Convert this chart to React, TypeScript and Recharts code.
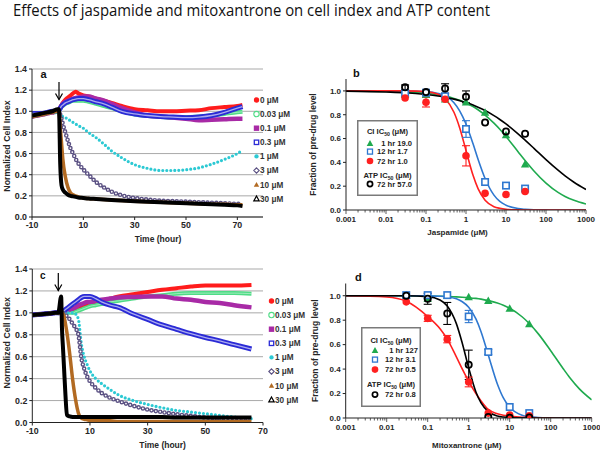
import React from "react";
import {
  LineChart,
  ComposedChart,
  Line,
  Scatter,
  ErrorBar,
  XAxis,
  YAxis,
  CartesianGrid,
  Legend,
} from "recharts";

const FONT = "'Liberation Sans', Arial, sans-serif";
const INK = "#262626";

// ---------- panels a and c: cell index over time ----------
const doseLabels = ["0 μM", "0.03 μM", "0.1 μM", "0.3 μM", "1 μM", "3 μM", "10 μM", "30 μM"];
const doseKeys = ["s0", "s003", "s01", "s03", "s1", "s3", "s10", "s30"];
const doseColors = ["#ff1c1c", "#4fdc86", "#a82aa6", "#2b2bd6", "#2cc9d3", "#5b5183", "#b26a22", "#000000"];
const doseShapes = ["circle", "circleOpen", "square", "squareOpen", "dot", "diamondOpen", "triangle", "triangleOpen"];

const timeA = [-10, -8, -6, -4, -2, 0, 0.5, 1, 1.5, 2, 3, 4, 5, 6, 7, 8, 10, 12, 15, 18, 21, 25, 30, 35, 40, 45, 50, 55, 60, 65, 70, 72];
const jasp0 = [0.95, 0.96, 0.97, 0.98, 0.99, 1.0, 1.01, 1.04, 1.06, 1.08, 1.11, 1.13, 1.15, 1.17, 1.185, 1.17, 1.15, 1.14, 1.12, 1.1, 1.08, 1.05, 1.02, 1.01, 1.0, 1.0, 1.005, 1.01, 1.03, 1.04, 1.05, 1.06];
const jasp003 = [0.95, 0.96, 0.97, 0.98, 0.99, 1.0, 1.0, 1.02, 1.04, 1.05, 1.07, 1.08, 1.09, 1.1, 1.1, 1.1, 1.1, 1.09, 1.07, 1.05, 1.03, 1.0, 0.97, 0.955, 0.945, 0.94, 0.945, 0.95, 0.96, 0.975, 0.99, 0.995];
const jasp01 = [0.95, 0.96, 0.97, 0.98, 0.99, 1.0, 1.01, 1.03, 1.05, 1.07, 1.09, 1.1, 1.11, 1.12, 1.125, 1.13, 1.14, 1.14, 1.12, 1.1, 1.07, 1.03, 0.99, 0.96, 0.95, 0.94, 0.93, 0.915, 0.92, 0.925, 0.93, 0.93];
const jasp03 = [0.98, 0.98, 0.98, 0.99, 1.0, 1.0, 1.01, 1.03, 1.05, 1.06, 1.08, 1.09, 1.1, 1.11, 1.115, 1.12, 1.12, 1.11, 1.09, 1.07, 1.04, 1.0, 0.975, 0.96, 0.95, 0.945, 0.94, 0.945, 0.96, 0.99, 1.03, 1.045];
const jasp1 = [0.95, 0.96, 0.97, 0.98, 0.99, 0.98, 0.97, 0.96, 0.955, 0.95, 0.94, 0.925, 0.91, 0.895, 0.88, 0.865, 0.84, 0.8, 0.75, 0.69, 0.625, 0.56, 0.495, 0.46, 0.44, 0.44, 0.447, 0.465, 0.5, 0.545, 0.6, 0.63];
const jasp3 = [0.95, 0.96, 0.97, 0.98, 0.99, 1.0, 1.0, 0.97, 0.93, 0.88, 0.8, 0.72, 0.65, 0.6, 0.55, 0.51, 0.45, 0.4, 0.33, 0.28, 0.24, 0.205, 0.18, 0.165, 0.155, 0.15, 0.145, 0.14, 0.135, 0.13, 0.125, 0.125];
const jasp10 = [0.95, 0.96, 0.97, 0.98, 0.99, 1.0, 1.0, 0.85, 0.7, 0.55, 0.38, 0.28, 0.23, 0.21, 0.2, 0.19, 0.18, 0.175, 0.17, 0.165, 0.16, 0.155, 0.15, 0.145, 0.14, 0.135, 0.13, 0.125, 0.12, 0.12, 0.115, 0.115];
const jasp30 = [0.96, 0.97, 0.98, 0.99, 1.0, 1.02, 1.02, 0.5, 0.3, 0.26, 0.23, 0.21, 0.2, 0.195, 0.19, 0.185, 0.18, 0.175, 0.17, 0.165, 0.16, 0.155, 0.15, 0.145, 0.14, 0.135, 0.13, 0.125, 0.12, 0.115, 0.11, 0.105];

const timeC = [-10, -8, -6, -4, -2, -1, 0, 0.3, 0.6, 1, 1.5, 2, 3, 4, 5, 6, 7, 8, 9, 10, 12, 14, 17, 20, 25, 30, 35, 40, 45, 50, 55, 60, 66];
const mito0 = [0.98, 0.985, 0.99, 0.995, 1.0, 1.0, 1.0, 1.0, 1.0, 1.0, 1.005, 1.01, 1.02, 1.03, 1.04, 1.05, 1.06, 1.07, 1.08, 1.09, 1.1, 1.11, 1.13, 1.15, 1.17, 1.19, 1.21, 1.225, 1.24, 1.25, 1.25, 1.25, 1.255];
const mito003 = [0.98, 0.985, 0.99, 0.995, 1.0, 1.0, 1.0, 1.0, 1.0, 1.0, 1.0, 1.0, 1.0, 1.0, 1.01, 1.02, 1.03, 1.04, 1.05, 1.06, 1.07, 1.08, 1.1, 1.11, 1.13, 1.15, 1.16, 1.175, 1.18, 1.18, 1.18, 1.18, 1.175];
const mito01 = [0.98, 0.985, 0.99, 0.995, 1.0, 1.0, 1.0, 1.0, 1.0, 1.01, 1.015, 1.02, 1.03, 1.04, 1.05, 1.07, 1.08, 1.09, 1.1, 1.1, 1.11, 1.12, 1.13, 1.14, 1.145, 1.15, 1.15, 1.13, 1.12, 1.1, 1.09, 1.07, 1.05];
const mito03 = [0.98, 0.985, 0.99, 0.995, 1.0, 1.0, 1.0, 1.0, 1.01, 1.02, 1.03, 1.04, 1.06, 1.08, 1.1, 1.12, 1.14, 1.15, 1.15, 1.15, 1.13, 1.1, 1.07, 1.05, 0.99, 0.94, 0.89, 0.85, 0.81, 0.775, 0.745, 0.71, 0.67];
const mito1 = [0.98, 0.985, 0.99, 0.995, 1.0, 1.0, 1.0, 1.0, 1.0, 1.0, 1.0, 1.0, 1.0, 1.0, 0.99, 0.94, 0.72, 0.6, 0.53, 0.47, 0.4, 0.355, 0.3, 0.25, 0.2, 0.165, 0.135, 0.11, 0.095, 0.08, 0.065, 0.05, 0.035];
const mito3 = [0.98, 0.985, 0.99, 0.995, 1.0, 1.0, 1.0, 1.0, 1.0, 0.99, 0.98, 0.97, 0.94, 0.9, 0.86, 0.8, 0.59, 0.49, 0.42, 0.375, 0.315, 0.27, 0.225, 0.195, 0.152, 0.118, 0.095, 0.075, 0.06, 0.045, 0.035, 0.025, 0.02];
const mito10 = [0.98, 0.985, 0.99, 0.995, 1.0, 1.0, 1.0, 1.0, 0.99, 0.97, 0.9, 0.82, 0.62, 0.39, 0.21, 0.085, 0.04, 0.03, 0.025, 0.02, 0.02, 0.015, 0.015, 0.01, 0.01, 0.01, 0.01, 0.01, 0.01, 0.01, 0.01, 0.01, 0.01];
const mito30 = [0.98, 0.985, 0.99, 0.995, 1.0, 1.0, 1.15, 0.85, 0.7, 0.5, 0.25, 0.07, 0.055, 0.05, 0.05, 0.05, 0.05, 0.05, 0.05, 0.05, 0.05, 0.05, 0.05, 0.05, 0.05, 0.05, 0.05, 0.045, 0.045, 0.045, 0.045, 0.045, 0.045];

const cellIndexTicks = [0, 0.2, 0.4, 0.6, 0.8, 1.0, 1.2, 1.4];
const timeTicks = [-10, 10, 30, 50, 70];

// ---------- panels b and d: dose response ----------
const doses = [0.03, 0.1, 0.3, 1, 3, 10, 30];

const jaspCI1 = [0.97, 0.97, 0.93, 0.905, 0.82, 0.63, 0.385];
const jaspCI12 = [0.98, 0.985, 0.955, 0.68, 0.235, 0.205, 0.18];
const jaspCI12Err = [null, null, null, 0.07, null, null, null];
const jaspCI72 = [0.94, 0.905, 0.93, 0.455, 0.14, 0.13, 0.155];
const jaspCI72Err = [null, 0.04, null, 0.085, null, null, null];
const jaspATP = [1.03, 0.99, 1.02, 0.95, 0.735, 0.66, 0.64];
const jaspATPErr = [0.02, null, 0.04, 0.05, null, null, null];

const mitoCI1 = [1.0, 0.975, 1.0, 0.99, 0.96, 0.895, 0.77];
const mitoCI12 = [1.005, 1.005, 1.005, 0.83, 0.54, 0.09, 0.04];
const mitoCI12Err = [null, null, null, 0.05, 0.02, null, null];
const mitoCI72 = [0.95, 0.815, 0.645, 0.295, 0.04, 0.025, 0.018];
const mitoCI72Err = [null, 0.025, 0.03, 0.04, null, null, null];
const mitoATP = [1.0, 0.975, 0.855, 0.435, 0.008, 0.003, 0.005];
const mitoATPErr = [null, 0.045, 0.09, 0.12, null, null, null];

// fitted curves
const fitX = [0.001, 0.01, 0.03, 0.1, 0.2, 0.3, 0.5, 0.7, 1, 1.5, 2, 3, 5, 7, 10, 20, 30, 50, 100, 200, 300, 500, 1000];
const jaspFit1 = [0.999, 0.996, 0.992, 0.98, 0.967, 0.956, 0.937, 0.921, 0.899, 0.869, 0.842, 0.797, 0.729, 0.678, 0.617, 0.49, 0.416, 0.328, 0.226, 0.148, 0.114, 0.081, 0.05];
const jaspFit12 = [1.0, 1.0, 0.999, 0.994, 0.979, 0.958, 0.901, 0.831, 0.722, 0.556, 0.427, 0.265, 0.125, 0.072, 0.04, 0.012, 0.006, 0.002, 0.001, 0, 0, 0, 0];
const jaspFit72 = [1.0, 1.0, 1.0, 0.994, 0.972, 0.934, 0.821, 0.687, 0.5, 0.291, 0.179, 0.082, 0.028, 0.014, 0.006, 0.001, 0, 0, 0, 0, 0, 0, 0];
const jaspFitATP = [0.998, 0.991, 0.985, 0.97, 0.957, 0.947, 0.931, 0.918, 0.902, 0.881, 0.863, 0.835, 0.792, 0.76, 0.723, 0.64, 0.587, 0.518, 0.423, 0.334, 0.286, 0.233, 0.172];

const mitoFit1 = [1.0, 1.0, 0.999, 0.998, 0.996, 0.994, 0.991, 0.988, 0.984, 0.978, 0.972, 0.96, 0.94, 0.922, 0.897, 0.828, 0.773, 0.688, 0.55, 0.405, 0.325, 0.238, 0.148];
const mitoFit12 = [1.0, 1.0, 1.0, 0.999, 0.996, 0.991, 0.975, 0.951, 0.906, 0.81, 0.706, 0.516, 0.278, 0.164, 0.088, 0.023, 0.011, 0.004, 0.001, 0, 0, 0, 0];
const mitoFit72 = [1.0, 0.99, 0.955, 0.83, 0.73, 0.645, 0.5, 0.4, 0.3, 0.2, 0.14, 0.07, 0.035, 0.022, 0.015, 0.006, 0.004, 0.002, 0.001, 0, 0, 0, 0];
const mitoFitATP = [1.0, 1.0, 1.0, 0.993, 0.965, 0.916, 0.772, 0.61, 0.41, 0.213, 0.123, 0.052, 0.017, 0.008, 0.0035, 0.001, 0, 0, 0, 0, 0, 0, 0];

const decades = [0.001, 0.01, 0.1, 1, 10, 100, 1000];
const minorSteps = [2, 3, 4, 5, 6, 7, 8, 9];
const fractionTicks = [0, 0.2, 0.4, 0.6, 0.8, 1.0];

const GREEN = "#1faa4e";
const BLUE = "#2f78d0";
const RED = "#ff2020";

// ---------- helpers ----------
const buildRows = (times: number[], series: number[][]) =>
  times.map((t, i) => {
    const row: Record<string, number> = { t };
    doseKeys.forEach((k, j) => (row[k] = series[j][i]));
    return row;
  });

const pts = (xs: number[], ys: number[], es?: (number | null)[]) =>
  xs.map((x, i) => ({ x, y: ys[i], e: es ? es[i] : null }));

const rowsA = buildRows(timeA, [jasp0, jasp003, jasp01, jasp03, jasp1, jasp3, jasp10, jasp30]);
const rowsC = buildRows(timeC, [mito0, mito003, mito01, mito03, mito1, mito3, mito10, mito30]);

const logTicks = [
  ...decades,
  ...decades.slice(0, -1).flatMap((d) => minorSteps.map((m) => +(d * m).toPrecision(3))),
];

function Marker({ shape, color, x, y, s }: { shape: string; color: string; x: number; y: number; s: number }) {
  switch (shape) {
    case "circle":
      return <circle cx={x} cy={y} r={s} fill={color} />;
    case "circleOpen":
      return <circle cx={x} cy={y} r={s} fill="none" stroke={color} strokeWidth={1.1} />;
    case "square":
      return <rect x={x - s} y={y - s} width={2 * s} height={2 * s} fill={color} />;
    case "squareOpen":
      return <rect x={x - s + 0.5} y={y - s + 0.5} width={2 * s - 1} height={2 * s - 1} fill="none" stroke={color} strokeWidth={1.3} />;
    case "dot":
      return <circle cx={x} cy={y} r={s * 0.8} fill={color} />;
    case "diamondOpen":
      return <path d={`M${x},${y - s}L${x + s},${y}L${x},${y + s}L${x - s},${y}Z`} fill="none" stroke={color} strokeWidth={1.1} />;
    case "triangle":
      return <path d={`M${x},${y - s}L${x + s},${y + s * 0.8}L${x - s},${y + s * 0.8}Z`} fill={color} />;
    default:
      return <path d={`M${x},${y - s}L${x + s},${y + s * 0.8}L${x - s},${y + s * 0.8}Z`} fill="none" stroke={color} strokeWidth={1.2} />;
  }
}

const DoseLegend = () => (
  <svg width={56} height={116} style={{ overflow: "visible", display: "block" }}>
    {doseLabels.map((lab, i) => (
      <g key={lab}>
        <Marker shape={doseShapes[i]} color={doseColors[i]} x={4.5} y={7 + i * 14.1} s={2.7} />
        <text x={8} y={7 + i * 14.1} dy="0.36em" fontSize={8.2} fontWeight="bold" fill="#333" fontFamily={FONT}>
          {lab}
        </text>
      </g>
    ))}
  </svg>
);

const ic50Label = (prefix: string, x: number, y: number) => (
  <text x={x} y={y} dy="0.36em" textAnchor="middle" fontSize={7.6} fontWeight="bold" fill="#222" fontFamily={FONT}>
    {prefix} IC
    <tspan fontSize={5.2} dy={1.8}>50</tspan>
    <tspan dy={-1.8}> (μM)</tspan>
  </text>
);

function IcLegend({ labels, atpLabel, rows, markerX, textX, w, h }: any) {
  const shapes = ["triangle", "squareOpen", "circle"];
  const cols = [GREEN, BLUE, RED];
  return (
    <svg width={w} height={h} style={{ display: "block" }}>
      <rect x={0.75} y={0.75} width={w - 1.5} height={h - 1.5} fill="#fff" stroke="#7a7a7a" strokeWidth={1.5} />
      {ic50Label("CI", w / 2, rows[0])}
      {labels.map((lab: string, i: number) => (
        <g key={lab}>
          <Marker shape={shapes[i]} color={cols[i]} x={markerX} y={rows[i + 1]} s={i === 1 ? 3 : 3.3} />
          <text x={textX} y={rows[i + 1]} dy="0.36em" fontSize={7.6} fontWeight="bold" fill="#222" fontFamily={FONT}>
            {lab}
          </text>
        </g>
      ))}
      {ic50Label("ATP", w / 2, rows[4])}
      <circle cx={markerX} cy={rows[5]} r={2.6} fill="none" stroke="#000" strokeWidth={1.7} />
      <text x={textX} y={rows[5]} dy="0.36em" fontSize={7.6} fontWeight="bold" fill="#222" fontFamily={FONT}>
        {atpLabel}
      </text>
    </svg>
  );
}

const LogTick = (props: any) => {
  const { x, y, payload } = props;
  const v = payload.value;
  const major = decades.includes(v);
  const y0 = y - 6;
  return (
    <g>
      <line x1={x} x2={x} y1={y0} y2={y0 + (major ? 4 : 2.5)} stroke="#333" strokeWidth={0.8} />
      {major && (
        <text x={x} y={y} dy="0.72em" textAnchor="middle" fontSize={8} fontWeight="bold" fill={INK} fontFamily={FONT}>
          {String(v)}
        </text>
      )}
    </g>
  );
};

const tickStyleA = { fontSize: 8.8, fontWeight: "bold", fill: INK, fontFamily: FONT };
const tickStyleB = { fontSize: 8, fontWeight: "bold", fill: INK, fontFamily: FONT };
const labelStyle = { fontSize: 8.5, fontWeight: "bold", fill: INK, fontFamily: FONT };

const common = { type: "monotone" as const, dot: false, isAnimationActive: false, activeDot: false as const };

function TimePanel({ rows, domain, margin, yWidth, xHeight, xLabelDx, yLabelDy, legendPos }: any) {
  return (
    <LineChart width={300} height={190} data={rows} margin={margin}>
      <CartesianGrid vertical={false} stroke="#a9a9a9" strokeWidth={1} />
      <XAxis
        type="number"
        dataKey="t"
        domain={domain}
        ticks={timeTicks}
        allowDataOverflow
        height={xHeight}
        interval={0}
        stroke="#222"
        tickSize={3}
        tick={tickStyleA}
        label={{ value: "Time (hour)", position: "insideBottom", offset: 0, dx: xLabelDx, style: labelStyle }}
      />
      <YAxis
        type="number"
        domain={[0, 1.4]}
        ticks={cellIndexTicks}
        allowDataOverflow
        width={yWidth}
        interval={0}
        stroke="#222"
        tickSize={3}
        tick={tickStyleA}
        tickFormatter={(v: number) => v.toFixed(1)}
        label={{ value: "Normalized Cell Index", angle: -90, position: "center", dx: -9.5, dy: yLabelDy, style: { ...labelStyle, fontSize: 8.8 } }}
      />
      <Legend
        layout="vertical"
        align="center"
        verticalAlign="middle"
        content={() => <DoseLegend />}
        wrapperStyle={{ left: legendPos[0], top: legendPos[1], width: 56, height: 116 }}
      />
      <Line {...common} dataKey="s0" stroke={doseColors[0]} strokeWidth={4} />
      <Line {...common} dataKey="s003" stroke={doseColors[1]} strokeWidth={4} />
      <Line {...common} dataKey="s003" stroke="#ffffff" strokeOpacity={0.45} strokeWidth={1} />
      <Line {...common} dataKey="s01" stroke={doseColors[2]} strokeWidth={4.5} />
      <Line {...common} dataKey="s03" stroke={doseColors[3]} strokeWidth={5} />
      <Line {...common} dataKey="s03" stroke="#ffffff" strokeOpacity={0.6} strokeWidth={1.3} />
      <Line {...common} dataKey="s1" stroke={doseColors[4]} strokeWidth={3.2} strokeDasharray="0 4" strokeLinecap="round" />
      <Line {...common} dataKey="s3" stroke={doseColors[5]} strokeWidth={4.6} strokeDasharray="0 4.4" strokeLinecap="round" />
      <Line {...common} dataKey="s3" stroke="#ffffff" strokeWidth={1.8} strokeDasharray="0 4.4" strokeLinecap="round" />
      <Line {...common} dataKey="s10" stroke={doseColors[6]} strokeWidth={3.5} />
      <Line {...common} dataKey="s30" stroke={doseColors[7]} strokeWidth={4} />
    </LineChart>
  );
}

const triShape = (color: string) => (p: any) =>
  <path d={`M${p.cx},${p.cy - 4.2}L${p.cx + 4.2},${p.cy + 3.3}L${p.cx - 4.2},${p.cy + 3.3}Z`} fill={color} />;
const sqShape = (color: string) => (p: any) =>
  <rect x={p.cx - 3.2} y={p.cy - 3.2} width={6.4} height={6.4} fill="#fff" stroke={color} strokeWidth={1.6} />;
const dotShape = (color: string) => (p: any) => <circle cx={p.cx} cy={p.cy} r={3.8} fill={color} />;
const ringShape = (color: string) => (p: any) =>
  <circle cx={p.cx} cy={p.cy} r={3.1} fill="none" stroke={color} strokeWidth={1.8} />;

function DosePanel({ curves, points, margin, yWidth, xHeight, xLabel, xLabelDx, yLabelDx, legend }: any) {
  const curveCols = [GREEN, BLUE, RED, "#000"];
  const shapes = [triShape(GREEN), sqShape(BLUE), dotShape(RED), ringShape("#000")];
  return (
    <ComposedChart width={300} height={190} margin={margin}>
      <XAxis
        type="number"
        dataKey="x"
        scale="log"
        domain={[0.001, 1000]}
        allowDataOverflow
        ticks={logTicks}
        interval={0}
        height={xHeight}
        stroke="#222"
        tickSize={4}
        tickMargin={2}
        tickLine={false}
        tick={<LogTick />}
        label={{ value: xLabel, position: "insideBottom", offset: 0, dx: xLabelDx, style: { ...labelStyle, fontSize: 8 } }}
      />
      <YAxis
        type="number"
        dataKey="y"
        domain={[0, 1.1]}
        ticks={fractionTicks}
        allowDataOverflow
        width={yWidth}
        interval={0}
        stroke="#222"
        tickSize={3}
        tick={tickStyleB}
        tickFormatter={(v: number) => v.toFixed(1)}
        label={{ value: "Fraction of pre-drug level", angle: -90, position: "center", dx: yLabelDx, style: labelStyle }}
      />
      <Legend
        layout="vertical"
        align="center"
        verticalAlign="middle"
        content={() => <IcLegend {...legend} />}
        wrapperStyle={{ left: legend.left, top: legend.top, width: legend.w, height: legend.h }}
      />
      {curves.map((c: any, i: number) => (
        <Line key={"c" + i} {...common} data={c} dataKey="y" stroke={curveCols[i]} strokeWidth={1.6} />
      ))}
      {points.map((p: any, i: number) => (
        <Scatter key={"p" + i} data={p} dataKey="y" shape={shapes[i]} isAnimationActive={false}>
          <ErrorBar dataKey="e" direction="y" width={4} stroke={curveCols[i]} strokeWidth={1.1} isAnimationActive={false} />
        </Scatter>
      ))}
    </ComposedChart>
  );
}

const Arrow = ({ x, y1, y2 }: { x: number; y1: number; y2: number }) => (
  <g stroke="#000" strokeWidth={1.2} fill="none">
    <line x1={x} x2={x} y1={y1} y2={y2} />
    <polyline points={`${x - 3.5},${y2 - 6} ${x},${y2} ${x + 3.5},${y2 - 6}`} />
  </g>
);

export default function App() {
  return (
    <div style={{ position: "absolute", left: 0, top: 0, width: 600, height: 450, background: "#fff", fontFamily: FONT }}>
      <div style={{ position: "absolute", left: 0, top: 60 }}>
        <TimePanel
          rows={rowsA}
          domain={[-10, 80]}
          margin={{ top: 9, right: 37, bottom: 8, left: 0 }}
          yWidth={32}
          xHeight={25}
          xLabelDx={10.5}
          yLabelDy={3}
          legendPos={[252, 33]}
        />
      </div>
      <div style={{ position: "absolute", left: 0, top: 260 }}>
        <TimePanel
          rows={rowsC}
          domain={[-10, 70]}
          margin={{ top: 9, right: 37, bottom: 2, left: 0 }}
          yWidth={32.3}
          xHeight={25.5}
          xLabelDx={15}
          yLabelDy={-3}
          legendPos={[267, 33.7]}
        />
      </div>
      <div style={{ position: "absolute", left: 300, top: 60 }}>
        <DosePanel
          curves={[pts(fitX, jaspFit1), pts(fitX, jaspFit12), pts(fitX, jaspFit72), pts(fitX, jaspFitATP)]}
          points={[pts(doses, jaspCI1), pts(doses, jaspCI12, jaspCI12Err), pts(doses, jaspCI72, jaspCI72Err), pts(doses, jaspATP, jaspATPErr)]}
          margin={{ top: 19, right: 14, bottom: 15, left: 0 }}
          yWidth={46}
          xHeight={25}
          xLabel="Jaspamide (μM)"
          xLabelDx={-8.5}
          yLabelDx={-10}
          legend={{
            left: 57, top: 60, w: 61, h: 76,
            labels: ["\u20071 hr 19.0", "12 hr 1.7", "72 hr 1.0"], atpLabel: "72 hr 57.0",
            rows: [11.3, 23.3, 31.6, 41, 55, 64], markerX: 13, textX: 20,
          }}
        />
      </div>
      <div style={{ position: "absolute", left: 300, top: 260 }}>
        <DosePanel
          curves={[pts(fitX, mitoFit1), pts(fitX, mitoFit12), pts(fitX, mitoFit72), pts(fitX, mitoFitATP)]}
          points={[pts(doses, mitoCI1), pts(doses, mitoCI12, mitoCI12Err), pts(doses, mitoCI72, mitoCI72Err), pts(doses, mitoATP, mitoATPErr)]}
          margin={{ top: 23.5, right: 8.3, bottom: 2.5, left: 0 }}
          yWidth={45.7}
          xHeight={29.5}
          xLabel="Mitoxantrone (μM)"
          xLabelDx={-2}
          yLabelDx={-8}
          legend={{
            left: 61, top: 66.7, w: 60, h: 80,
            labels: ["\u20071 hr 127", "12 hr 3.1", "72 hr 0.5"], atpLabel: "72 hr 0.8",
            rows: [13.3, 23.3, 32.6, 42.6, 57.6, 67.6], markerX: 14, textX: 24,
          }}
        />
      </div>
      <svg width={600} height={450} style={{ position: "absolute", left: 0, top: 0, pointerEvents: "none" }}>
        <text x={13} y={15.5} fontFamily="'Open Sans', Lato, sans-serif" fontSize={16} textLength={477} lengthAdjust="spacingAndGlyphs" fill="#111">
          Effects of jaspamide and mitoxantrone on cell index and ATP content
        </text>
        <text x={40.5} y={78.3} fontSize={11} fontWeight="bold" fontFamily={FONT} fill="#111">a</text>
        <text x={353} y={76.5} fontSize={11} fontWeight="bold" fontFamily={FONT} fill="#111">b</text>
        <text x={40} y={278.5} fontSize={10} fontWeight="bold" fontFamily={FONT} fill="#111">c</text>
        <text x={355} y={280.5} fontSize={11} fontWeight="bold" fontFamily={FONT} fill="#111">d</text>
        <Arrow x={59} y1={82} y2={99.5} />
        <Arrow x={58.3} y1={273} y2={290.5} />
      </svg>
    </div>
  );
}
